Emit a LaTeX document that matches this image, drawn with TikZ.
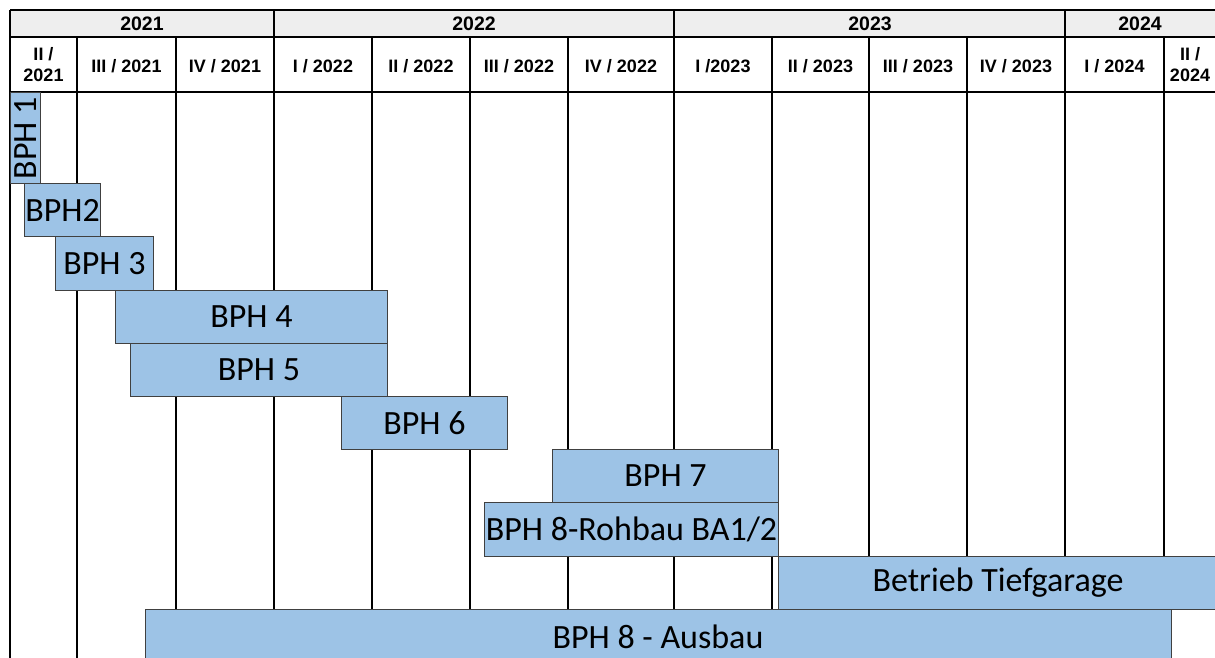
\documentclass[tikz,border=0pt]{standalone}
\usepackage{fontspec}
\setmainfont{Carlito}
\newfontfamily\hdrfont{Liberation Sans}
\usepackage{tikz}
\usetikzlibrary{positioning}
\definecolor{barblue}{HTML}{9DC3E6}
\definecolor{yeargray}{HTML}{EEEEEE}

\begin{document}
\begin{tikzpicture}[x=1pt,y=-1pt,
grid/.style={line width=1.6pt},
yearlbl/.style={font=\hdrfont\bfseries\fontsize{19.5}{21}\selectfont},
qlbl/.style={font=\hdrfont\bfseries\fontsize{18}{21}\selectfont,align=center},
phase/.style={draw=black!75,line width=1pt,fill=barblue,inner sep=0pt,anchor=north west,
  font=\fontsize{34}{36}\selectfont}]
\clip (0,0) rectangle (1215,657);

% header
\fill[yeargray] (10,10) rectangle (1225,37);
\draw[grid] (10,10) -- (1225,10) (10,37) -- (1225,37) (10,92) -- (1225,92);
\foreach \x in {10,274,674,1065}
  \draw[grid] (\x,10) -- (\x,37);
\foreach \x in {10,77,176,274,372,470,568,674,772,869,967,1065,1164}
  \draw[grid] (\x,37) -- (\x,670);

\node[yearlbl] (y2021) at (142,23.5) {2021};
\node[yearlbl] (y2022) at (474,23.5) {2022};
\node[yearlbl] (y2023) at (870,23.5) {2023};
\node[yearlbl] (y2024) at (1140,23.5) {2024};

\node[qlbl] (q1) at (43.5,65) {II /\\2021};
\node[qlbl] (q2) at (126.5,66) {III / 2021};
\node[qlbl] (q3) at (225,66) {IV / 2021};
\node[qlbl] (q4) at (323,66) {I / 2022};
\node[qlbl] (q5) at (421,66) {II / 2022};
\node[qlbl] (q6) at (519,66) {III / 2022};
\node[qlbl] (q7) at (621,66) {IV / 2022};
\node[qlbl] (q8) at (723,66) {I /2023};
\node[qlbl] (q9) at (820.5,66) {II / 2023};
\node[qlbl] (q10) at (918,66) {III / 2023};
\node[qlbl] (q11) at (1016,66) {IV / 2023};
\node[qlbl] (q12) at (1114.5,66) {I / 2024};
\node[qlbl] (q13) at (1190,65) {II /\\2024};

% phases
\node[phase,minimum width=30,minimum height=91] (bph1) at (10,92) {};
\node[rotate=90,font=\fontsize{34}{36}\selectfont,inner sep=0pt] at (bph1.center) {BPH 1};
\node[phase,minimum width=76,minimum height=53] (bph2) at (24,183) {BPH2};
\node[phase,minimum width=98,minimum height=54] (bph3) at (55,236) {BPH 3};
\node[phase,minimum width=272,minimum height=53] (bph4) at (115,290) {BPH 4};
\node[phase,minimum width=257,minimum height=53] (bph5) at (130,343) {BPH 5};
\node[phase,minimum width=166,minimum height=53] (bph6) at (341,396) {BPH 6};
\node[phase,minimum width=226,minimum height=53] (bph7) at (552,449) {BPH 7};
\node[phase,minimum width=294,minimum height=54] (bph8r) at (484,502) {BPH 8-Rohbau BA1/2};
\node[phase,minimum width=437,minimum height=53] (tg) at (778,556) {};
\node[font=\fontsize{34}{36}\selectfont,inner sep=0pt] at (998,583) {Betrieb Tiefgarage};
\node[phase,minimum width=1026,minimum height=60] (bph8a) at (145,609) {};
\node[font=\fontsize{34}{36}\selectfont,inner sep=0pt] at (658,637) {BPH 8 - Ausbau};
\end{tikzpicture}
\end{document}
